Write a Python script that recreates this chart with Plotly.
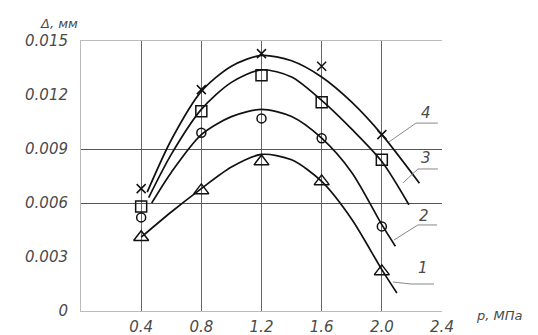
"""Deflection vs pressure: four measured series with smoothed curves."""

import plotly.graph_objects as go

# ── Data ──────────────────────────────────────────────────────────────────────
P = [0.4, 0.8, 1.2, 1.6, 2.0]

# measured points (markers)
pts_1 = [0.0041, 0.0067, 0.0083, 0.0072, 0.0022]
pts_2 = [0.0052, 0.0099, 0.0107, 0.0096, 0.0047]
pts_3 = [0.0058, 0.0111, 0.0131, 0.0116, 0.0084]
pts_4 = [0.0068, 0.0123, 0.0143, 0.0136, 0.0098]

# smoothed curves
curve_x_1 = [0.4, 0.6, 0.8, 1.0, 1.2, 1.4, 1.6, 1.8, 2.0, 2.1]
curve_y_1 = [0.0041, 0.0055, 0.0068, 0.0080, 0.0087, 0.0084, 0.0072, 0.0051, 0.0023, 0.0010]
curve_x_2 = [0.47, 0.6, 0.8, 1.0, 1.2, 1.4, 1.6, 1.8, 2.0, 2.09]
curve_y_2 = [0.0060, 0.0077, 0.0098, 0.0108, 0.0112, 0.0108, 0.0096, 0.0077, 0.0048, 0.0036]
curve_x_3 = [0.45, 0.6, 0.8, 1.0, 1.2, 1.4, 1.6, 1.8, 2.0, 2.18]
curve_y_3 = [0.0063, 0.0087, 0.0112, 0.0127, 0.0134, 0.0130, 0.0117, 0.0101, 0.0083, 0.0059]
curve_x_4 = [0.44, 0.6, 0.8, 1.0, 1.2, 1.4, 1.6, 1.8, 2.0, 2.25]
curve_y_4 = [0.0066, 0.0095, 0.0122, 0.0136, 0.0142, 0.0139, 0.0130, 0.0116, 0.0098, 0.0071]

x_ticks = [0.4, 0.8, 1.2, 1.6, 2.0, 2.4]
x_ticktext = ["0.4", "0.8", "1.2", "1.6", "2.0", "2.4"]
y_ticks = [0, 0.003, 0.006, 0.009, 0.012, 0.015]
y_ticktext = ["0", "0.003", "0.006", "0.009", "0.012", "0.015"]
y_grid = [0.006, 0.009]

curve_labels = ["1", "2", "3", "4"]
# label position (x, y) and leader path: end of underline -> start -> point on curve
label_pos = [(2.273, 0.00239), (2.28, 0.00528), (2.293, 0.0085), (2.293, 0.0110)]
leaders = [
    [(2.347, 0.0015), (2.193, 0.0015), (2.073, 0.00161)],
    [(2.367, 0.00478), (2.24, 0.00478), (2.08, 0.00394)],
    [(2.373, 0.00789), (2.24, 0.00789), (2.14, 0.00711)],
    [(2.373, 0.01044), (2.227, 0.01044), (2.047, 0.00939)],
]

FONT = dict(family="DejaVu Sans", size=15, color="#4a4a4a", style="italic")

# ── Figure ────────────────────────────────────────────────────────────────────
fig = go.Figure()

curves = [(curve_x_1, curve_y_1), (curve_x_2, curve_y_2),
          (curve_x_3, curve_y_3), (curve_x_4, curve_y_4)]
for cx, cy in curves:
    fig.add_trace(go.Scatter(
        x=cx, y=cy, mode="lines",
        line=dict(color="#111111", width=1.7, shape="spline", smoothing=0.8),
        showlegend=False, hoverinfo="skip",
    ))

markers = [
    (pts_1, dict(symbol="triangle-up-open", size=13)),
    (pts_2, dict(symbol="circle-open", size=9)),
    (pts_3, dict(symbol="square-open", size=11)),
    (pts_4, dict(symbol="x-thin-open", size=9)),
]
for ys, m in markers:
    fig.add_trace(go.Scatter(
        x=P, y=ys, mode="markers",
        marker=dict(**m, color="#111111", line=dict(color="#111111", width=1.5)),
        showlegend=False,
    ))

# invisible trace to carry the secondary grid axis
fig.add_trace(go.Scatter(x=[0], y=[0], yaxis="y2", mode="markers",
                         marker=dict(opacity=0), showlegend=False, hoverinfo="skip"))

shapes = []
for path in leaders:
    d = "M " + " L ".join(f"{x},{y}" for x, y in path)
    shapes.append(dict(type="path", path=d, xref="x", yref="y",
                       line=dict(color="#888888", width=1)))

annotations = [
    dict(text=t, x=pos[0], y=pos[1], xref="x", yref="y", showarrow=False,
         xanchor="center", yanchor="middle", font=FONT)
    for t, pos in zip(curve_labels, label_pos)
]
annotations += [
    dict(text="Δ, мм", x=-0.061, y=1.063, xref="paper", yref="paper",
         xanchor="center", yanchor="middle", showarrow=False,
         font={**FONT, "size": 13}),
    dict(text="р, МПа", x=1.158, y=-0.015, xref="paper", yref="paper",
         xanchor="center", yanchor="middle", showarrow=False,
         font={**FONT, "size": 13}),
]

# the page body adds an 8px offset, so the figure is sized to the rest of the window
fig.update_layout(
    width=530, height=327,
    paper_bgcolor="white", plot_bgcolor="white",
    margin=dict(l=73, r=96, t=33, b=24, autoexpand=False),
    font=FONT,
    xaxis=dict(
        range=[0, 2.4], tickvals=x_ticks, ticktext=x_ticktext,
        showgrid=True, gridcolor="#666666", gridwidth=1,
        showline=True, linecolor="#bbbbbb", linewidth=1, mirror=True,
        zeroline=False, ticks="", ticklabelstandoff=2, tickfont=FONT,
        automargin=False,
    ),
    yaxis=dict(
        range=[0, 0.015], tickvals=y_ticks, ticktext=y_ticktext,
        showgrid=False, showline=True, linecolor="#bbbbbb", linewidth=1,
        zeroline=False, ticks="", ticklabelstandoff=9, tickfont=FONT,
        automargin=False,
    ),
    yaxis2=dict(
        range=[0, 0.015], overlaying="y", tickvals=y_grid, showticklabels=False,
        showgrid=True, gridcolor="#555555", gridwidth=1, zeroline=False,
        showline=False, ticks="", automargin=False,
    ),
    shapes=shapes,
    annotations=annotations,
)

fig.write_html("out.html")
